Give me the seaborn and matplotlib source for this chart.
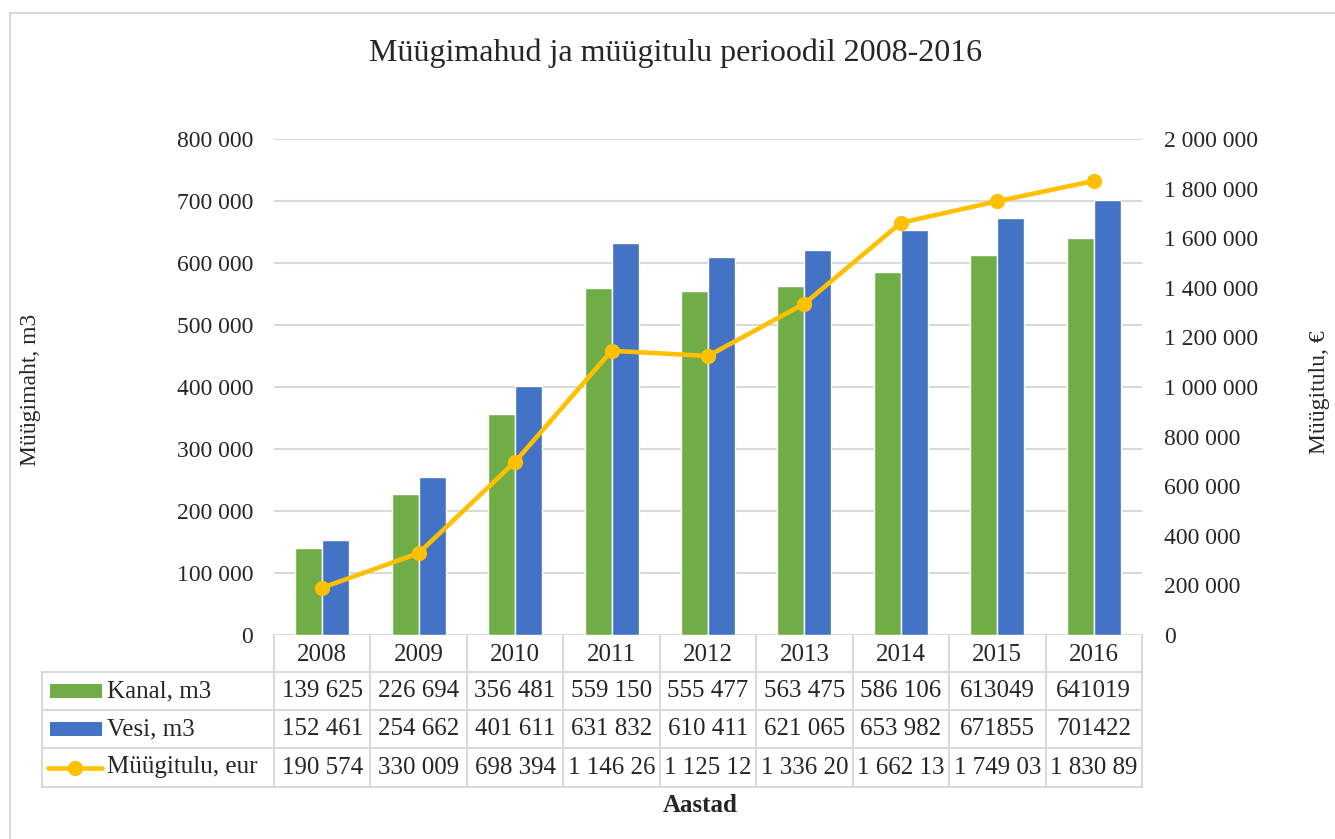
'''Müügimahud (tulbad) ja müügitulu (joon) 2008-2016, Exceli stiilis andmetabeliga.'''

import numpy as np
import pandas as pd
import seaborn as sns
import matplotlib.pyplot as plt
from matplotlib.transforms import blended_transform_factory
from matplotlib.patches import Rectangle
from matplotlib.lines import Line2D

# data
years = ["2008", "2009", "2010", "2011", "2012", "2013", "2014", "2015", "2016"]
kanal = [139625, 226694, 356481, 559150, 555477, 563475, 586106, 613049, 641019]
vesi = [152461, 254662, 401611, 631832, 610411, 621065, 653982, 671855, 701422]
tulu = [190574, 330009, 698394, 1146260, 1125120, 1336200, 1662130, 1749030, 1830890]

# table text as printed in the source (long revenue numbers cut off by the cell)
kanal_txt = ["139 625", "226 694", "356 481", "559 150", "555 477", "563 475",
             "586 106", "613049", "641019"]
vesi_txt = ["152 461", "254 662", "401 611", "631 832", "610 411", "621 065",
            "653 982", "671855", "701422"]
tulu_txt = ["190 574", "330 009", "698 394", "1 146 26", "1 125 12", "1 336 20",
            "1 662 13", "1 749 03", "1 830 89"]

series = ["Kanal, m3", "Vesi, m3", "Müügitulu, eur"]
green, blue, gold = "#70AD47", "#4472C4", "#FFC000"
grid_col = "#D9D9D9"

sns.set_style("white")
plt.rcParams['font.family'] = ['Liberation Serif', 'DejaVu Serif']

W, H = 1335, 839
fig = plt.figure(figsize=(W / 100, H / 100), dpi=100)


def fx(px):
    return px / W


def fy(py):
    return 1 - py / H


ax = fig.add_axes([fx(274), fy(635), fx(1142) - fx(274), fy(139) - fy(635)])

df = pd.DataFrame({"Aasta": years * 2,
                   "Maht": kanal + vesi,
                   "Seeria": [series[0]] * len(years) + [series[1]] * len(years)})
sns.barplot(data=df, x="Aasta", y="Maht", hue="Seeria", palette=[green, blue],
            width=0.56, gap=0, saturation=1, legend=False, ax=ax)

ax2 = ax.twinx()
sns.lineplot(x=np.arange(len(years)), y=tulu, ax=ax2, color=gold, linewidth=3.3,
             marker="o", markersize=11, markeredgewidth=0)

ax.set_xlim(-0.5, len(years) - 0.5)
ax.set_ylim(0, 800000)
ax2.set_ylim(0, 2000000)
lt = np.arange(0, 800001, 100000)
rt = np.arange(0, 2000001, 200000)
ax.set_yticks(lt, [f"{v:,}".replace(",", " ") for v in lt])
ax2.set_yticks(rt, [f"{v:,}".replace(",", " ") for v in rt])
ax.set_xticks([])
ax.set_xlabel("")
ax.set_ylabel("")
ax.yaxis.grid(True, color=grid_col, lw=1.5)
ax.set_axisbelow(True)
ax.tick_params(axis="y", length=0, pad=15, labelsize=17)
ax2.tick_params(axis="y", length=0, pad=16, labelsize=17)
for a in (ax, ax2):
    for s in a.spines.values():
        s.set_visible(False)

# titles and axis labels
fig.text(fx(676), fy(53), "Müügimahud ja müügitulu perioodil 2008-2016",
         ha="center", va="center", fontsize=23)
fig.text(fx(31), fy(390), "Müügimaht, m3", rotation=90, ha="center",
         va="center", fontsize=17)
fig.text(fx(1320), fy(392), "Müügitulu, €", rotation=90, ha="center",
         va="center", fontsize=17)
fig.text(fx(700), fy(805), "Aastad", ha="center", va="center",
         fontsize=18, fontweight="bold")

# data table below the plot
tr = blended_transform_factory(ax.transData, fig.transFigure)
rows_y = [635, 672, 710, 748, 787]
edges = np.arange(len(years) + 1) - 0.5
for e in edges:
    fig.add_artist(Line2D([e, e], [fy(635), fy(787)], transform=tr,
                          color=grid_col, lw=1.5))
for y in rows_y[1:]:
    fig.add_artist(Line2D([fx(42), fx(274)], [fy(y), fy(y)],
                          color=grid_col, lw=1.5))
    fig.add_artist(Line2D([edges[0], edges[-1]], [fy(y), fy(y)], transform=tr,
                          color=grid_col, lw=1.5))
fig.add_artist(Line2D([fx(42), fx(42)], [fy(672), fy(787)], color=grid_col, lw=1.5))

for i, yr in enumerate(years):
    fig.text(i, fy(655), yr, transform=tr, ha="center", va="center", fontsize=18)
for r, texts in enumerate([kanal_txt, vesi_txt, tulu_txt]):
    yc = (rows_y[r + 1] + rows_y[r + 2]) / 2
    for i, t in enumerate(texts):
        fig.text(i, fy(yc), t, transform=tr, ha="center", va="center", fontsize=18)
    fig.text(fx(107), fy(yc), series[r], ha="left", va="center", fontsize=18)
    if r < 2:
        fig.add_artist(Rectangle((fx(50), fy(yc + 7)), fx(52), 14 / H,
                                 color=[green, blue][r], lw=0))
    else:
        fig.add_artist(Line2D([fx(48), fx(102)], [fy(yc), fy(yc)], color=gold, lw=3.3))
        fig.add_artist(Line2D([fx(75)], [fy(yc)], color=gold, marker="o",
                              markersize=11, markeredgewidth=0))

# chart-area frame (left and top edges visible)
fig.add_artist(Line2D([fx(10), fx(10)], [fy(13), 0], color=grid_col, lw=1.5))
fig.add_artist(Line2D([fx(10), 1], [fy(13), fy(13)], color=grid_col, lw=1.5))

fig.savefig("out.png", dpi=100)
